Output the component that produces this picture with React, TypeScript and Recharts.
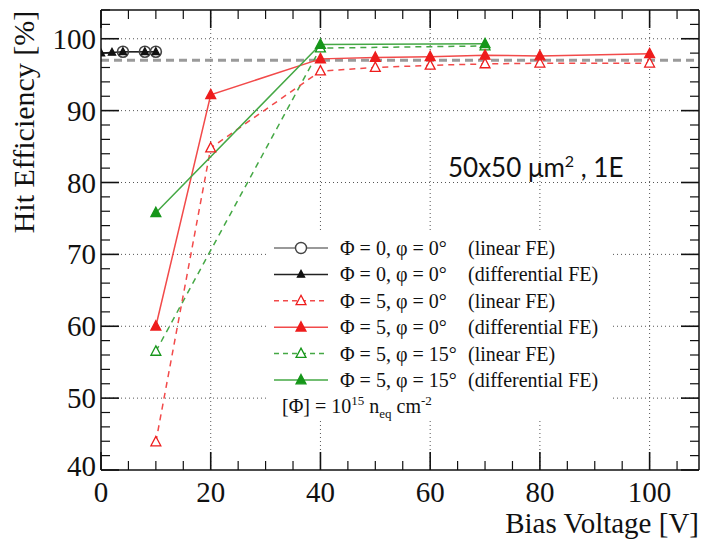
import { LineChart, Line, XAxis, YAxis, ReferenceLine } from "recharts";

const W = 703;
const H = 539;

// axes
const X_DOMAIN = [0, 109];
const Y_DOMAIN = [40, 104];
const X_TICKS = [0, 5, 10, 15, 20, 25, 30, 35, 40, 45, 50, 55, 60, 65, 70, 75, 80, 85, 90, 95, 100, 105];
const X_LABELS = [0, 20, 40, 60, 80, 100];
const Y_TICKS = [40, 42, 44, 46, 48, 50, 52, 54, 56, 58, 60, 62, 64, 66, 68, 70, 72, 74, 76, 78, 80, 82, 84, 86, 88, 90, 92, 94, 96, 98, 100, 102, 104];
const Y_LABELS = [40, 50, 60, 70, 80, 90, 100];
const X_GRID = [20, 40, 60, 80, 100];
const Y_GRID = [50, 60, 70, 80, 90, 100];
const REFERENCE_EFF = 97;

// series
const BLACK_LIN_X = [4, 8, 10];
const BLACK_LIN_Y = [98.2, 98.2, 98.2];
const BLACK_DIF_X = [0, 2, 4, 8, 10];
const BLACK_DIF_Y = [98.0, 98.1, 98.2, 98.2, 98.2];
const RED_LIN_X = [10, 20, 40, 50, 60, 70, 80, 100];
const RED_LIN_Y = [43.9, 84.8, 95.5, 96.0, 96.3, 96.5, 96.6, 96.6];
const RED_DIF_X = [10, 20, 40, 50, 60, 70, 80, 100];
const RED_DIF_Y = [60.0, 92.2, 97.2, 97.4, 97.5, 97.7, 97.6, 97.9];
const GREEN_LIN_X = [10, 40, 70];
const GREEN_LIN_Y = [56.5, 98.7, 99.0];
const GREEN_DIF_X = [10, 40, 70];
const GREEN_DIF_Y = [75.8, 99.2, 99.3];

const LEGEND_PHI = ["Φ = 0, φ = 0°", "Φ = 0, φ = 0°", "Φ = 5, φ = 0°", "Φ = 5, φ = 0°", "Φ = 5, φ = 15°", "Φ = 5, φ = 15°"];
const LEGEND_FE = ["(linear FE)", "(differential FE)", "(linear FE)", "(differential FE)", "(linear FE)", "(differential FE)"];

const RED = "#ee1c1c";
const RED_LINE = "#f24a4a";
const GREEN = "#16961a";
const GREEN_LINE = "#45a845";
const SERIF = "'Liberation Serif', 'Times New Roman', serif";

const pts = (xs: number[], ys: number[]) => xs.map((x, i) => ({ x, y: ys[i] }));

function Tri({ cx, cy, s, fill, stroke }: any) {
  if (cx == null || cy == null) return null;
  const d = `M${cx},${cy - s} L${cx + s * 0.9},${cy + s * 0.7} L${cx - s * 0.9},${cy + s * 0.7} Z`;
  return <path d={d} fill={fill} stroke={stroke} strokeWidth={1.3} />;
}

function Circ({ cx, cy }: any) {
  if (cx == null || cy == null) return null;
  return <circle cx={cx} cy={cy} r={5.5} fill="none" stroke="#444" strokeWidth={1.6} />;
}

const triDot = (id: string, s: number, fill: string, stroke: string) => (p: any) =>
  <Tri key={`${id}-${p.index}`} cx={p.cx} cy={p.cy} s={s} fill={fill} stroke={stroke} />;

const circDot = (p: any) => <Circ key={`c-${p.index}`} cx={p.cx} cy={p.cy} />;

function makeTick(side: "bottom" | "top" | "left" | "right") {
  return (props: any) => {
    const { x, y, payload } = props;
    const v = payload.value;
    const isX = side === "bottom" || side === "top";
    const major = isX ? X_LABELS.includes(v) : Y_LABELS.includes(v);
    const len = major ? 18 : 9;
    let line;
    if (side === "bottom") line = <line x1={x} y1={y} x2={x} y2={y - len} />;
    else if (side === "top") line = <line x1={x} y1={y} x2={x} y2={y + len} />;
    else if (side === "left") line = <line x1={x} y1={y} x2={x + len} y2={y} />;
    else line = <line x1={x} y1={y} x2={x - len} y2={y} />;
    return (
      <g stroke="#111" strokeWidth={major ? 1.6 : 1.2}>
        {line}
        {major && side === "bottom" && (
          <text x={x} y={y + 32} textAnchor="middle" fontFamily={SERIF} fontSize={29} fill="#111" stroke="none">{v}</text>
        )}
        {major && side === "left" && (
          <text x={x - 5} y={v === 40 ? y + 6 : y + 10} textAnchor="end" fontFamily={SERIF} fontSize={29} fill="#111" stroke="none">{v}</text>
        )}
      </g>
    );
  };
}

function Overlay() {
  const rowY = (i: number) => 248 + i * 26.4;
  return (
    <svg width={W} height={H} style={{ position: "absolute", left: 0, top: 0, pointerEvents: "none" }}>
      <text x={23} y={122} transform="rotate(-90 23 122)" textAnchor="middle" dominantBaseline="central" fontFamily={SERIF} fontSize={30} fill="#111">Hit Efficiency [%]</text>
      <text x={699} y={533} textAnchor="end" fontFamily={SERIF} fontSize={29} fill="#111">Bias Voltage [V]</text>
      <text x={448} y={177} fontFamily="Lato, 'Liberation Sans', sans-serif" fontSize={26} fill="#111">
        50x50 μm<tspan dy={-10} fontSize={16}>2</tspan><tspan dy={10}> , 1E</tspan>
      </text>
      <rect x={268} y={232} width={344} height={186} fill="#fff" />
      {LEGEND_PHI.map((label, i) => {
        const y = rowY(i);
        const color = i < 2 ? (i === 0 ? "#777" : "#222") : i < 4 ? RED_LINE : GREEN_LINE;
        const mark = i < 2 ? (i === 0 ? "#444" : "#111") : i < 4 ? RED : GREEN;
        const dashed = i === 2 || i === 4;
        const open = i === 0 || i === 2 || i === 4;
        return (
          <g key={i}>
            <line x1={274} x2={328} y1={y} y2={y} stroke={color} strokeWidth={1.5} strokeDasharray={dashed ? "5 4" : undefined} />
            {i === 0 ? (
              <circle cx={301} cy={y} r={5.5} fill="#fff" stroke={mark} strokeWidth={1.4} />
            ) : (
              <Tri cx={301} cy={y} s={i === 1 ? 4 : 5.5} fill={open ? "#fff" : mark} stroke={mark} />
            )}
            <text x={340} y={y + 7} fontFamily={SERIF} fontSize={20} fill="#111">{label}</text>
            <text x={468} y={y + 7} fontFamily={SERIF} fontSize={20} fill="#111">{LEGEND_FE[i]}</text>
          </g>
        );
      })}
      <text x={282} y={rowY(6) + 7} fontFamily={SERIF} fontSize={20} fill="#111">
        [Φ] = 10<tspan dy={-8} fontSize={13}>15</tspan><tspan dy={8}> n</tspan><tspan dy={5} fontSize={13}>eq</tspan><tspan dy={-5}> cm</tspan><tspan dy={-8} fontSize={13}>-2</tspan>
      </text>
    </svg>
  );
}

const axisLine = { stroke: "#111", strokeWidth: 1.5 };

export default function App() {
  return (
    <div style={{ position: "absolute", left: 0, top: 0, width: W, height: H, background: "#fff" }}>
      <LineChart width={W} height={H} margin={{ top: 0, right: 0, bottom: 0, left: 0 }}>
        <XAxis dataKey="x" type="number" domain={X_DOMAIN} ticks={X_TICKS} interval={0} allowDataOverflow height={69} tickSize={0} tickMargin={0} tickLine={false} axisLine={axisLine} tick={makeTick("bottom")} />
        <XAxis xAxisId="top" orientation="top" dataKey="x" type="number" domain={X_DOMAIN} ticks={X_TICKS} interval={0} allowDataOverflow height={10} tickSize={0} tickMargin={0} tickLine={false} axisLine={axisLine} tick={makeTick("top")} />
        <YAxis type="number" domain={Y_DOMAIN} ticks={Y_TICKS} interval={0} allowDataOverflow width={101} tickSize={0} tickMargin={0} tickLine={false} axisLine={axisLine} tick={makeTick("left")} />
        <YAxis yAxisId="right" orientation="right" type="number" domain={Y_DOMAIN} ticks={Y_TICKS} interval={0} allowDataOverflow width={4} tickSize={0} tickMargin={0} tickLine={false} axisLine={axisLine} tick={makeTick("right")} />
        {X_GRID.map((v) => (
          <ReferenceLine key={`gx${v}`} x={v} stroke="#555" strokeDasharray="1 3" strokeWidth={1} />
        ))}
        {Y_GRID.map((v) => (
          <ReferenceLine key={`gy${v}`} y={v} stroke="#555" strokeDasharray="1 3" strokeWidth={1} />
        ))}
        <ReferenceLine y={REFERENCE_EFF} stroke="#9a9a9a" strokeWidth={3} strokeDasharray="8 5" />
        <Line data={pts(BLACK_LIN_X, BLACK_LIN_Y)} dataKey="y" type="linear" stroke="#777" strokeWidth={1.5} dot={circDot} isAnimationActive={false} />
        <Line data={pts(BLACK_DIF_X, BLACK_DIF_Y)} dataKey="y" type="linear" stroke="#222" strokeWidth={1.5} dot={triDot("bd", 4, "#111", "#111")} isAnimationActive={false} />
        <Line data={pts(GREEN_LIN_X, GREEN_LIN_Y)} dataKey="y" type="linear" stroke={GREEN_LINE} strokeWidth={1.5} strokeDasharray="6 5" dot={triDot("gl", 5.5, "#fff", GREEN)} isAnimationActive={false} />
        <Line data={pts(RED_LIN_X, RED_LIN_Y)} dataKey="y" type="linear" stroke={RED_LINE} strokeWidth={1.5} strokeDasharray="6 5" dot={triDot("rl", 5.5, "#fff", RED)} isAnimationActive={false} />
        <Line data={pts(RED_DIF_X, RED_DIF_Y)} dataKey="y" type="linear" stroke={RED_LINE} strokeWidth={1.5} dot={triDot("rd", 5.5, RED, RED)} isAnimationActive={false} />
        <Line data={pts(GREEN_DIF_X, GREEN_DIF_Y)} dataKey="y" type="linear" stroke={GREEN_LINE} strokeWidth={1.5} dot={triDot("gd", 5.5, GREEN, GREEN)} isAnimationActive={false} />
      </LineChart>
      <Overlay />
    </div>
  );
}
